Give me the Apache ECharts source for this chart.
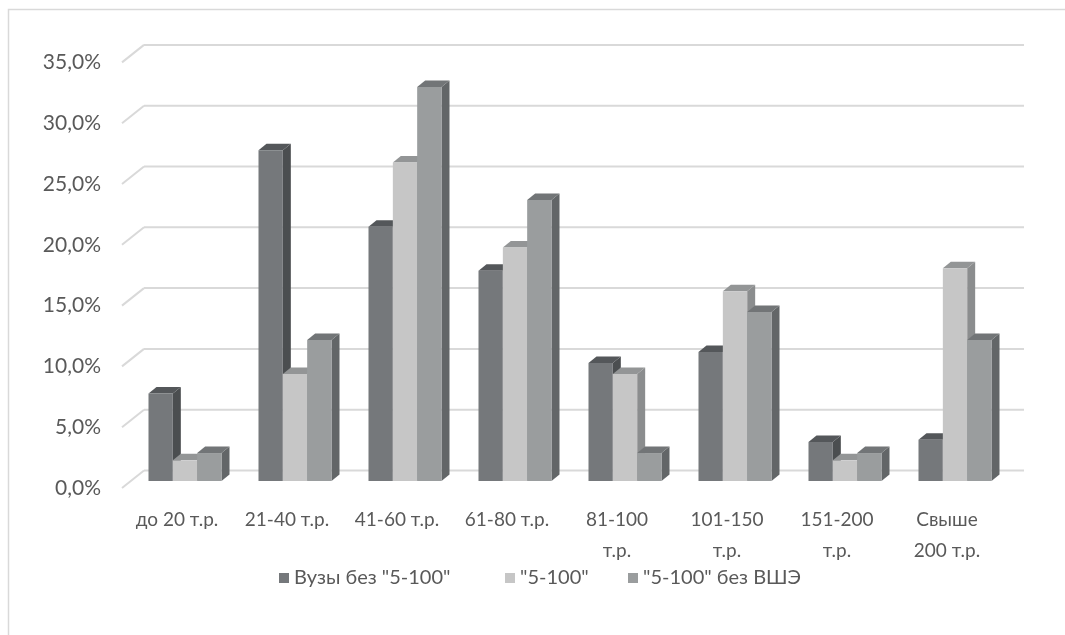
<!DOCTYPE html>
<html>
<head>
<meta charset="utf-8">
<script src="https://cdn.jsdelivr.net/npm/echarts@6/dist/echarts.min.js"></script>
<style>
  html, body { margin: 0; padding: 0; background: #ffffff; }
  #chart { width: 1065px; height: 635px; }
</style>
</head>
<body>
<div id="chart"></div>
<script>
// Salary brackets (thousand roubles per month)
const categories = ['до 20 т.р.', '21-40 т.р.', '41-60 т.р.', '61-80 т.р.', '81-100\nт.р.', '101-150\nт.р.', '151-200\nт.р.', 'Свыше\n200 т.р.'];
const seriesNames = ['Вузы без "5-100"', '"5-100"', '"5-100" без ВШЭ'];

// Share of respondents, %
const vuzyBez5100 = [7.2, 27.2, 20.9, 17.3, 9.7, 10.6, 3.2, 3.4];
const vuzy5100 = [1.7, 8.8, 26.2, 19.2, 8.8, 15.6, 1.7, 17.5];
const vuzy5100BezVshe = [2.3, 11.6, 32.4, 23.1, 2.3, 13.9, 2.3, 11.6];

// Value axis ticks, %
const yTicks = [0, 5, 10, 15, 20, 25, 30, 35];

// Face colours for the pseudo-3D columns: front, right side, top
const palettes = [
  { front: '#75787b', side: '#4b4e50', top: '#54575a' },
  { front: '#c6c6c6', side: '#8b8d8e', top: '#939596' },
  { front: '#9a9d9e', side: '#636668', top: '#727577' }
];

const FONT = 'Lato';
const TEXT = '#595959';
const DEPTH = [8, -6.5];        // column depth (dx, dy)
const BACK = [14, -10.5];       // back wall offset from the column plane
const FRONT = [-8, 7];          // front edge offset from the column plane
const BAR_FRAC = 0.2212;        // column width as part of a category band

function columnRenderer(idx) {
  const pal = palettes[idx];
  return function (params, api) {
    const cat = api.value(0);
    const val = api.value(1);
    const base = api.coord([cat, 0]);
    const top = api.coord([cat, val]);
    const band = api.size([1, 0])[0];
    const w = band * BAR_FRAC;
    const x = base[0] - 1.5 * w + idx * w;
    const yb = base[1];
    const yt = top[1];
    const dx = DEPTH[0], dy = DEPTH[1];
    return {
      type: 'group',
      children: [
        { type: 'polygon', shape: { points: [[x + w, yt], [x + w + dx, yt + dy], [x + w + dx, yb + dy], [x + w, yb]] },
          style: { fill: pal.side } },
        { type: 'polygon', shape: { points: [[x, yt], [x + dx, yt + dy], [x + w + dx, yt + dy], [x + w, yt]] },
          style: { fill: pal.top } },
        { type: 'rect', shape: { x: x, y: yt, width: w, height: yb - yt },
          style: { fill: pal.front } }
      ]
    };
  };
}

function wallRenderer(params, api) {
  const v = api.value(1);
  const p = api.coord([0, v]);
  const band = api.size([1, 0])[0];
  const left = p[0] - band / 2;
  const right = left + band * categories.length;
  const y = p[1];
  const style = { stroke: '#d9d9d9', lineWidth: 2, fill: null };
  return {
    type: 'group',
    children: [
      { type: 'line', shape: { x1: left + BACK[0], y1: y + BACK[1], x2: right + BACK[0], y2: y + BACK[1] }, style: style },
      { type: 'line', shape: { x1: left + FRONT[0], y1: y + FRONT[1], x2: left + BACK[0], y2: y + BACK[1] }, style: style }
    ]
  };
}

const seriesData = [vuzyBez5100, vuzy5100, vuzy5100BezVshe];
const legendLeft = [274, 500, 623];

const chart = echarts.init(document.getElementById('chart'), null, { renderer: 'canvas' });

const option = {
  animation: false,
  backgroundColor: '#ffffff',
  textStyle: { fontFamily: FONT },
  grid: [
    { left: 130, right: 55, top: 55.4, bottom: 154 },   // column plane
    { left: 122, right: 63, top: 62.4, bottom: 147 }    // front edge: axis labels
  ],
  xAxis: [
    { gridIndex: 0, type: 'category', data: categories, show: false },
    {
      gridIndex: 1, type: 'category', data: categories,
      axisLine: { show: false }, axisTick: { show: false },
      axisLabel: { color: TEXT, fontFamily: FONT, fontSize: 19, lineHeight: 31, margin: 16, interval: 0 }
    }
  ],
  yAxis: [
    { gridIndex: 0, type: 'value', min: 0, max: 35, interval: 5,
      axisLine: { show: false }, axisTick: { show: false }, axisLabel: { show: false }, splitLine: { show: false } },
    { gridIndex: 1, type: 'value', min: 0, max: 35, interval: 5,
      axisLine: { show: false }, axisTick: { show: false }, splitLine: { show: false },
      axisLabel: { color: TEXT, fontFamily: FONT, fontSize: 21, margin: 21,
        formatter: function (v) { return v.toFixed(1).replace('.', ',') + '%'; } } }
  ],
  legend: seriesNames.map(function (n, i) {
    return {
      left: legendLeft[i], top: 563,
      itemWidth: 10, itemHeight: 10, icon: 'rect',
      textStyle: { color: TEXT, fontFamily: FONT, fontSize: 20 },
      data: [{ name: n, itemStyle: { color: palettes[i].front } }]
    };
  }),
  graphic: [
    { type: 'rect', silent: true, z: -10,
      shape: { x: 8.5, y: 9.5, width: 1200, height: 800 },
      style: { fill: null, stroke: '#d9d9d9', lineWidth: 1.5 } }
  ],
  series: [
    {
      type: 'custom', name: 'walls', xAxisIndex: 0, yAxisIndex: 0, z: 1,
      silent: true, clip: false, legendHoverLink: false,
      renderItem: wallRenderer,
      encode: { x: 0, y: 1 },
      data: yTicks.map(function (v) { return [0, v]; })
    }
  ].concat(seriesNames.map(function (name, i) {
    return {
      type: 'custom', name: name, xAxisIndex: 0, yAxisIndex: 0, z: 2 + i,
      clip: false,
      itemStyle: { color: palettes[i].front },
      renderItem: columnRenderer(i),
      encode: { x: 0, y: 1 },
      data: seriesData[i].map(function (v, c) { return [c, v]; })
    };
  }))
};

chart.setOption(option);
</script>
</body>
</html>
